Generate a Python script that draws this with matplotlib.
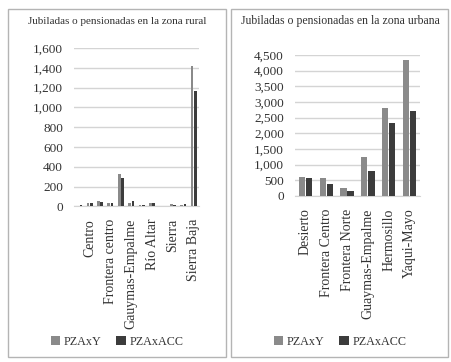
import numpy as np
import matplotlib
matplotlib.use("Agg")
import matplotlib.pyplot as plt
from matplotlib.patches import Rectangle

# rural zone: 12 categories, only every other one is labelled in the chart
rural_labels = ["", "Centro", "", "Frontera centro", "", "Gauymas-Empalme",
                "", "Río Altar", "", "Sierra", "", "Sierra Baja"]
rural_pzaxy = [7, 34, 51, 38, 330, 34, 17, 38, 3, 27, 14, 1420]
rural_pzaxacc = [14, 31, 44, 38, 288, 55, 17, 38, 3, 17, 27, 1165]
rural_ticks = [0, 200, 400, 600, 800, 1000, 1200, 1400, 1600]

# urban zone
urban_labels = ["Desierto", "Frontera Centro", "Frontera Norte",
                "Guaymas-Empalme", "Hermosillo", "Yaqui-Mayo"]
urban_pzaxy = [620, 560, 250, 1230, 2800, 4350]
urban_pzaxacc = [560, 380, 160, 790, 2320, 2720]
urban_ticks = [0, 500, 1000, 1500, 2000, 2500, 3000, 3500, 4000, 4500]

LIGHT = "#8a8a8a"
DARK = "#3c3c3c"
GRID = "#d4d4d4"
TXT = "#333333"
FONT = "Liberation Serif"

plt.rcParams.update({"font.family": FONT, "font.size": 9, "text.color": TXT})

W, H = 452, 362
fig = plt.figure(figsize=(W / 100, H / 100), dpi=100)


def px_axes(x0, y0, x1, y1):
    # pixel box (top-left origin) -> figure fraction axes
    return fig.add_axes([x0 / W, 1 - y1 / H, (x1 - x0) / W, (y1 - y0) / H])


def panel(x0, y0, x1, y1):
    fig.patches.append(Rectangle((x0 / W, 1 - y1 / H), (x1 - x0) / W, (y1 - y0) / H,
                                 transform=fig.transFigure, fill=False,
                                 edgecolor="#b4b4b4", lw=1.0))


def draw(ax, labels, a, b, ticks, width, off):
    x = np.arange(len(labels))
    h1 = ax.bar(x - off, a, width, color=LIGHT, label="PZAxY", zorder=3)
    h2 = ax.bar(x + off, b, width, color=DARK, label="PZAxACC", zorder=3)
    ax.set_ylim(ticks[0], ticks[-1])
    ax.set_yticks(ticks)
    ax.set_yticklabels([f"{t:,}" for t in ticks], fontsize=9.5, color=TXT)
    ax.set_xticks(x)
    ax.set_xticklabels(labels, rotation=90, fontsize=10.0, color=TXT)
    ax.set_xlim(-0.5, len(labels) - 0.5)
    ax.tick_params(length=0, axis="y", pad=8)
    ax.tick_params(length=0, axis="x", pad=9)
    ax.grid(axis="y", color=GRID, lw=1.0, zorder=0)
    for s in ["top", "right", "left"]:
        ax.spines[s].set_visible(False)
    ax.spines["bottom"].set_color(GRID)
    ax.spines["bottom"].set_zorder(1)
    return h1, h2


# left panel
panel(8, 9, 226, 357)
ax1 = px_axes(74, 48, 199, 206.5)
h1, h2 = draw(ax1, rural_labels, rural_pzaxy, rural_pzaxacc, rural_ticks, 0.25, 0.16)
fig.text(117 / W, 1 - 21 / H, "Jubiladas o pensionadas en la zona rural",
         ha="center", va="center", fontsize=8.0, color=TXT)
fig.legend([h1, h2], ["PZAxY", "PZAxACC"], loc="center", bbox_to_anchor=(117 / W, 1 - 342 / H),
           ncol=2, frameon=False, fontsize=8.7, handlelength=0.8, handleheight=0.8,
           handletextpad=0.3, columnspacing=1.2)

# right panel
panel(231, 9, 448, 357)
ax2 = px_axes(295, 55, 420, 196)
g1, g2 = draw(ax2, urban_labels, urban_pzaxy, urban_pzaxacc, urban_ticks, 0.3, 0.17)
fig.text(340 / W, 1 - 21 / H, "Jubiladas o pensionadas en la zona urbana",
         ha="center", va="center", fontsize=8.5, color=TXT)
fig.legend([g1, g2], ["PZAxY", "PZAxACC"], loc="center", bbox_to_anchor=(340 / W, 1 - 342 / H),
           ncol=2, frameon=False, fontsize=8.7, handlelength=0.8, handleheight=0.8,
           handletextpad=0.3, columnspacing=1.2)

fig.savefig("out.png", dpi=100, facecolor="white")
plt.close(fig)
